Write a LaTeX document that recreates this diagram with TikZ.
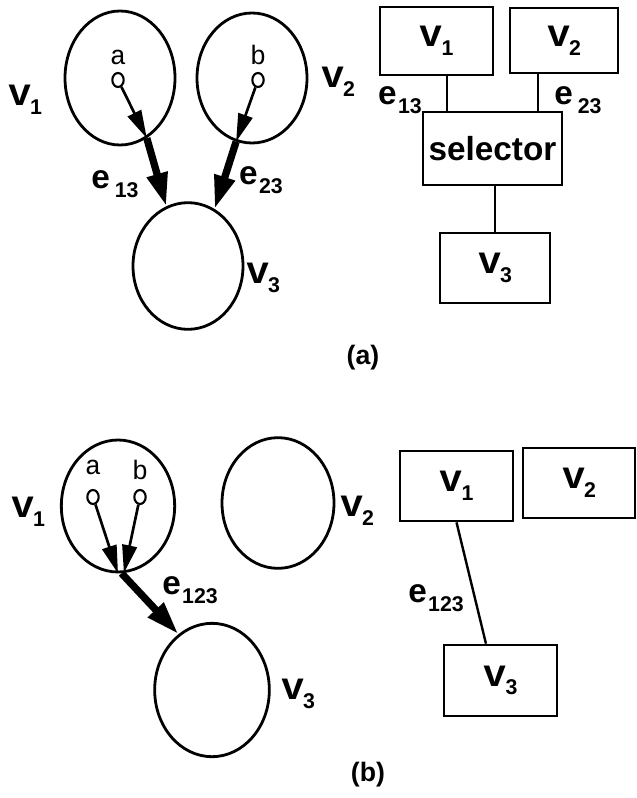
\documentclass[tikz,border=0pt]{standalone}
\usepackage{fontspec}
\setmainfont{Liberation Sans}
\newfontfamily\courier{Liberation Mono}
\usetikzlibrary{positioning, arrows.meta, shapes.geometric}

\newcommand{\vlab}[1]{{\courier\bfseries\fontsize{29}{29}\selectfont v}\kern-1pt\raisebox{-6.5pt}{\bfseries\fontsize{16}{16}\selectfont #1}}
\newcommand{\elab}[1]{{\bfseries\fontsize{25}{25}\selectfont e}\kern1pt\raisebox{-7pt}{\bfseries\fontsize{16}{16}\selectfont #1}}

\begin{document}
\begin{tikzpicture}[
  x=0.75pt, y=-0.75pt,
  vertex/.style={ellipse, draw, line width=2.1pt, inner sep=0pt},
  port/.style={ellipse, draw, line width=1.6pt, inner sep=0pt,
               minimum width=8.5pt, minimum height=10.5pt},
  portlab/.style={inner sep=0pt, font=\courier\fontsize{20}{20}\selectfont},
  block/.style={rectangle, draw, line width=2pt, inner sep=0pt},
  lab/.style={inner sep=0pt},
  caption/.style={inner sep=0pt, font=\bfseries\fontsize{20}{20}\selectfont},
  link/.style={line width=1.8pt},
  arr/.style={line width=2pt, -{Triangle[length=21pt, width=11pt]}},
  bigarr/.style={line width=5.5pt, -{Triangle[length=25pt, width=15pt]}}
]
  \useasboundingbox (0,0) rectangle (636,798);

  % (a) process graph
  \node[vertex, minimum width=82.5pt, minimum height=100.5pt] (c1a) at (120,78) {};
  \node[vertex, minimum width=82.5pt, minimum height=97.5pt]  (c2a) at (252,78) {};
  \node[vertex, minimum width=82.5pt, minimum height=95pt]    (c3a) at (188,266) {};
  \node[port] (pa) at (118,80) {};
  \node[port] (pb) at (258,80) {};
  \node[portlab, above=5.5pt of pa] (pala) {a};
  \node[portlab, above=5pt of pb]   (pblb) {b};

  \node[lab] (l1a) at (25,100)  {\vlab{1}};
  \node[lab] (l2a) at (338,82)  {\vlab{2}};
  \node[lab] (l3a) at (263,278) {\vlab{3}};
  \node[lab] (e13a) at (115,184) {\elab{\,13}};
  \node[lab] (e23a) at (261,180) {\elab{23}};

  % (a) selector
  \node[block, minimum width=84.75pt, minimum height=51pt]    (ra1) at (436.5,41) {\vlab{1}};
  \node[block, minimum width=81pt, minimum height=48.75pt]    (ra2) at (564,40.5) {\vlab{2}};
  \node[block, minimum width=104.25pt, minimum height=54.75pt,
        font=\bfseries\fontsize{25}{25}\selectfont]          (sel) at (492.5,148.5) {selector};
  \node[block, minimum width=82.5pt, minimum height=52.5pt]   (ra3) at (495,268) {\vlab{3}};
  \node[lab] (e13r) at (400,100) {\elab{13}};
  \node[lab] (e23r) at (578,100) {\elab{\,23}};

  \node[caption] (capa) at (363,358) {(a)};

  % (b) process graph
  \node[vertex, minimum width=85pt, minimum height=99pt] (c1b) at (118,506) {};
  \node[vertex, minimum width=84pt, minimum height=98pt] (c2b) at (278,503) {};
  \node[vertex, minimum width=86pt, minimum height=100pt] (c3b) at (212,690) {};
  \node[port] (qa) at (93,497) {};
  \node[port] (qb) at (140,497) {};
  \node[portlab, above=10.5pt of qa] (qala) {a};
  \node[portlab, above=6.5pt of qb]  (qblb) {b};

  \node[lab] (l1b) at (28,512)  {\vlab{1}};
  \node[lab] (l2b) at (357,511) {\vlab{2}};
  \node[lab] (l3b) at (298,694) {\vlab{3}};
  \node[lab] (e123l) at (190,590) {\elab{123}};

  % (b) merged edge
  \node[block, minimum width=84.75pt, minimum height=52.5pt]  (rb1) at (456.5,486) {\vlab{1}};
  \node[block, minimum width=84pt, minimum height=52.5pt]     (rb2) at (579,483) {\vlab{2}};
  \node[block, minimum width=84.75pt, minimum height=53.25pt] (rb3) at (500.5,680.5) {\vlab{3}};
  \node[lab] (e123r) at (436,598) {\elab{123}};

  \node[caption] (capb) at (368,775) {(b)};

  % edges
  \draw[arr]    (pa) -- (c1a.-66);
  \draw[bigarr] (c1a.-66) -- (c3a.110);
  \draw[arr]    (pb) -- (c2a.-104);
  \draw[bigarr] (c2a.-104) -- (c3a.65);
  \draw[link] ([xshift=7.9pt]ra1.south) -- ([xshift=7.9pt]ra1.south |- sel.north);
  \draw[link] ([xshift=-19.5pt]ra2.south) -- ([xshift=-19.5pt]ra2.south |- sel.north);
  \draw[link] (sel.south -| ra3.north) -- (ra3.north);

  \draw[arr]    (qa) -- (c1b.-90);
  \draw[arr]    (qb) -- (c1b.-85);
  \draw[bigarr] (c1b.-87) -- (c3b.121);
  \draw[link] (rb1.south) -- ([xshift=-10.9pt]rb3.north);
\end{tikzpicture}
\end{document}
